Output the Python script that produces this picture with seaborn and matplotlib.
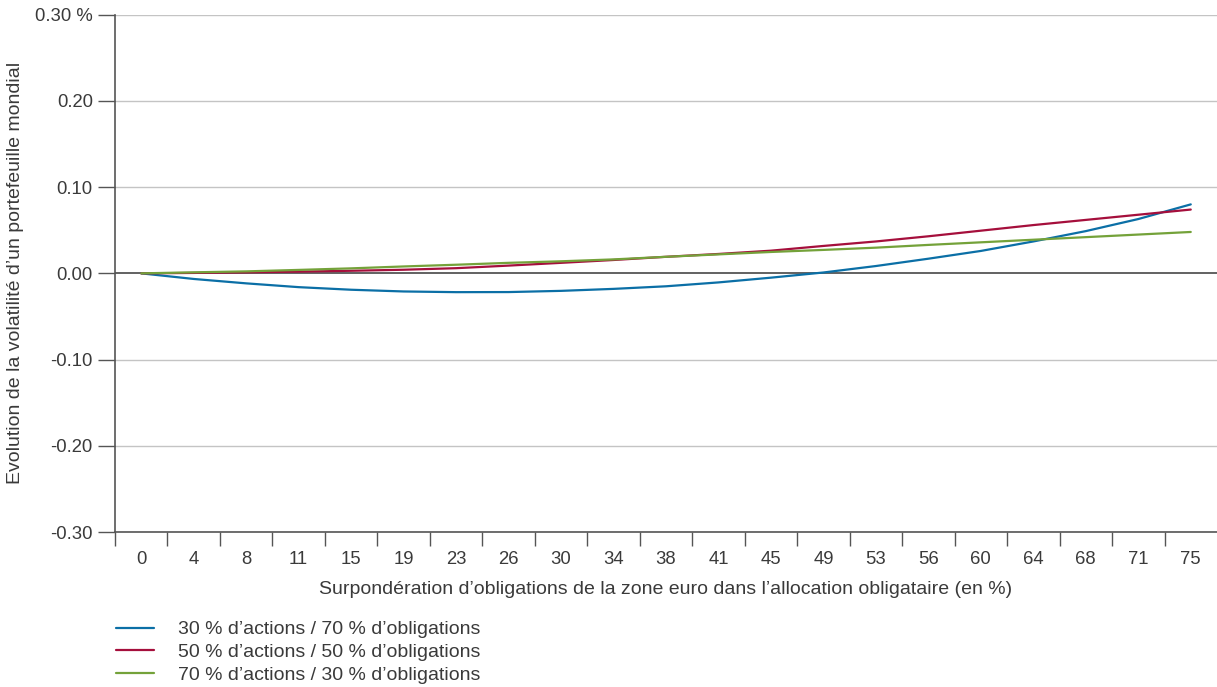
import numpy as np
import pandas as pd
import matplotlib
matplotlib.use("Agg")
import matplotlib.pyplot as plt
import seaborn as sns

# Overweight of euro-area bonds in the bond allocation (%)
x_labels = ["0", "4", "8", "11", "15", "19", "23", "26", "30", "34", "38",
            "41", "45", "49", "53", "56", "60", "64", "68", "71", "75"]

# Change in volatility of a global portfolio (percentage points)
vol_30_70 = [0.0, -0.0065, -0.0116, -0.0160, -0.0190, -0.0210, -0.0218, -0.0217,
             -0.0203, -0.0180, -0.0150, -0.0105, -0.0050, 0.0010, 0.0085, 0.0170,
             0.0260, 0.0370, 0.0490, 0.0630, 0.0800]
vol_50_50 = [0.0, 0.0005, 0.0012, 0.0020, 0.0030, 0.0042, 0.0060, 0.0090,
             0.0122, 0.0155, 0.0192, 0.0225, 0.0263, 0.0318, 0.0370, 0.0430,
             0.0495, 0.0560, 0.0620, 0.0680, 0.0740]
vol_70_30 = [0.0, 0.0012, 0.0023, 0.0040, 0.0058, 0.0080, 0.0100, 0.0122,
             0.0140, 0.0162, 0.0192, 0.0220, 0.0248, 0.0272, 0.0298, 0.0330,
             0.0360, 0.0390, 0.0420, 0.0450, 0.0480]

series_names = ["30 % d’actions / 70 % d’obligations",
                "50 % d’actions / 50 % d’obligations",
                "70 % d’actions / 30 % d’obligations"]
colors = ["#0B6FA6", "#A50F3C", "#74A23A"]

y_ticks = [0.30, 0.20, 0.10, 0.00, -0.10, -0.20, -0.30]
y_tick_labels = ["0.30 %", "0.20", "0.10", "0.00", "-0.10", "-0.20", "-0.30"]

pos = np.arange(len(x_labels))
df = pd.concat([
    pd.DataFrame({"pos": pos, "value": vals, "serie": name})
    for vals, name in zip([vol_30_70, vol_50_50, vol_70_30], series_names)
], ignore_index=True)

sns.set_theme(style="white")
plt.rcParams["font.family"] = ["Liberation Sans", "DejaVu Sans"]
text_col = "#3a3a3a"
axis_col = "#555555"
fs_tick = 13.3
fs_text = 14

fig = plt.figure(figsize=(12.17, 6.87), dpi=100)
ax = fig.add_axes([0.0945, 0.2256, 0.9055, 0.753])

for yv in y_ticks:
    if yv == 0:
        ax.axhline(yv, color=axis_col, lw=1.3, zorder=1)
    else:
        ax.axhline(yv, color="#c4c4c4", lw=1.0, zorder=0)

sns.lineplot(data=df, x="pos", y="value", hue="serie", palette=colors,
             hue_order=series_names, linewidth=1.6, ax=ax, legend=False, zorder=3)

ax.set_xlim(-0.5, len(x_labels) - 0.5)
ax.set_ylim(-0.30, 0.30)

ax.set_xticks(pos)
ax.set_xticklabels(x_labels)
ax.set_xticks(np.arange(-0.5, len(x_labels) - 1, 1.0), minor=True)
ax.tick_params(axis="x", which="major", length=0, pad=14, labelsize=fs_tick, labelcolor=text_col)
ax.tick_params(axis="x", which="minor", length=10, width=1.0, color=axis_col, direction="out", bottom=True)

ax.set_yticks(y_ticks)
ax.set_yticklabels(y_tick_labels)
ax.tick_params(axis="y", length=12, width=1.0, color=axis_col, pad=4, labelsize=fs_tick, labelcolor=text_col, left=True)

for side in ["top", "right"]:
    ax.spines[side].set_visible(False)
for side in ["left", "bottom"]:
    ax.spines[side].set_color(axis_col)
    ax.spines[side].set_linewidth(1.2)

ax.set_xlabel("Surpondération d’obligations de la zone euro dans l’allocation obligataire (en %)",
              fontsize=fs_text, color=text_col, labelpad=9)
ax.set_ylabel("Evolution de la volatilité d’un portefeuille mondial",
              fontsize=fs_text, color=text_col)
ax.yaxis.set_label_coords(-0.083, 0.5)

handles = [plt.Line2D([0], [0], color=c, lw=1.6) for c in colors]
fig.legend(handles, series_names, loc="upper left", bbox_to_anchor=(0.0888, 0.1077),
           frameon=False, fontsize=fs_text, handlelength=1.96, handletextpad=1.24,
           labelspacing=0.26, borderaxespad=0, labelcolor=text_col)

fig.savefig("out.png", dpi=100)
